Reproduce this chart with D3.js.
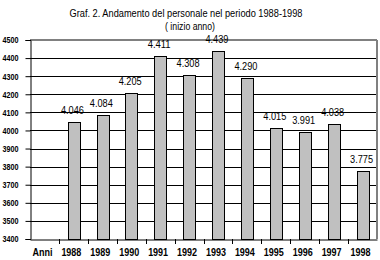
<!DOCTYPE html>
<html><head><meta charset="utf-8">
<script src="https://cdn.jsdelivr.net/npm/d3@7"></script>
<style>body{margin:0;background:#fff}svg{display:block}text{font-family:"Liberation Sans",Arial,sans-serif}</style>
</head><body>
<script>
const categories = ["Anni","1988","1989","1990","1991","1992","1993","1994","1995","1996","1997","1998"];
const years = ["1988","1989","1990","1991","1992","1993","1994","1995","1996","1997","1998"];
const values = [4046,4084,4205,4411,4308,4439,4290,4015,3991,4038,3775];
const valueLabels = ["4.046","4.084","4.205","4.411","4.308","4.439","4.290","4.015","3.991","4.038","3.775"];
const yTicks = [3400,3500,3600,3700,3800,3900,4000,4100,4200,4300,4400,4500];
const titleLines = ["Graf. 2. Andamento del personale nel periodo 1988-1998","( inizio anno)"];
const titleWidths = [233,50];

const W=380,H=260, L=30, R=377, T=40, B=239;
const svg=d3.select("body").append("svg").attr("width",W).attr("height",H);
const x=d3.scaleBand().domain(categories).range([L,R]).paddingInner(0.6).paddingOuter(0.3);
const xb=d3.scaleBand().domain(categories).range([L,R]);
const y=d3.scaleLinear().domain([3400,4500]).range([B,T]);

svg.selectAll(".title").data(titleLines).enter().append("text")
  .attr("x",(d,i)=>i?190:186).attr("y",(d,i)=>17+i*13).attr("text-anchor","middle")
  .attr("font-size",11).attr("textLength",(d,i)=>titleWidths[i]).attr("lengthAdjust","spacingAndGlyphs")
  .attr("fill","#000").text(d=>d);

// gridlines
svg.append("g").selectAll("line").data(yTicks.slice(1,-1)).enter().append("line")
  .attr("x1",L).attr("x2",R).attr("y1",d=>Math.round(y(d))+0.5).attr("y2",d=>Math.round(y(d))+0.5)
  .attr("stroke","#000").attr("stroke-width",1);
// top & right border gray
svg.append("line").attr("x1",L).attr("x2",R).attr("y1",y(4500)).attr("y2",y(4500)).attr("stroke","#808080").attr("stroke-width",2);
svg.append("line").attr("x1",R).attr("x2",R).attr("y1",T).attr("y2",B).attr("stroke","#808080").attr("stroke-width",2);

// bars
const data=years.map((c,i)=>({c,v:values[i],l:valueLabels[i]}));
svg.append("g").selectAll("rect").data(data).enter().append("rect")
  .attr("x",d=>Math.round(x(d.c))+0.5).attr("y",d=>Math.round(y(d.v))+0.5)
  .attr("width",Math.round(x.bandwidth())).attr("height",d=>Math.round(B-y(d.v)))
  .attr("fill","#c0c0c0").attr("stroke","#000").attr("stroke-width",1);
svg.append("g").selectAll("text").data(data).enter().append("text")
  .attr("x",d=>x(d.c)+x.bandwidth()/2-1).attr("y",d=>y(d.v)-8)
  .attr("text-anchor","middle").attr("font-size",10).attr("textLength",23).attr("lengthAdjust","spacingAndGlyphs").text(d=>d.l);

// y axis
const ya=svg.append("g").attr("transform",`translate(${L+0.5},0)`)
  .call(d3.axisLeft(y).tickValues(yTicks).tickFormat(d3.format("d")).tickSize(5).tickPadding(7));
ya.select(".domain").attr("stroke","#000");
ya.selectAll("text").attr("font-size",9).attr("font-weight","bold").attr("textLength",16).attr("lengthAdjust","spacingAndGlyphs")
  .attr("font-family","Liberation Sans, Arial, sans-serif");

// x axis
const xa=svg.append("g").attr("transform",`translate(0,${B+0.5})`)
  .call(d3.axisBottom(xb).tickSize(0).tickPadding(9));
xa.select(".domain").attr("stroke","#000");
xa.selectAll("text").attr("font-size",10.5).attr("font-weight","bold").attr("dx",-2)
  .attr("textLength",20).attr("lengthAdjust","spacingAndGlyphs")
  .attr("font-family","Liberation Sans, Arial, sans-serif");
// boundary ticks
svg.append("g").selectAll("line").data(categories.slice(1)).enter().append("line")
  .attr("x1",d=>Math.round(xb(d))+0.5).attr("x2",d=>Math.round(xb(d))+0.5)
  .attr("y1",B).attr("y2",B+5).attr("stroke","#000");
</script>
</body></html>
